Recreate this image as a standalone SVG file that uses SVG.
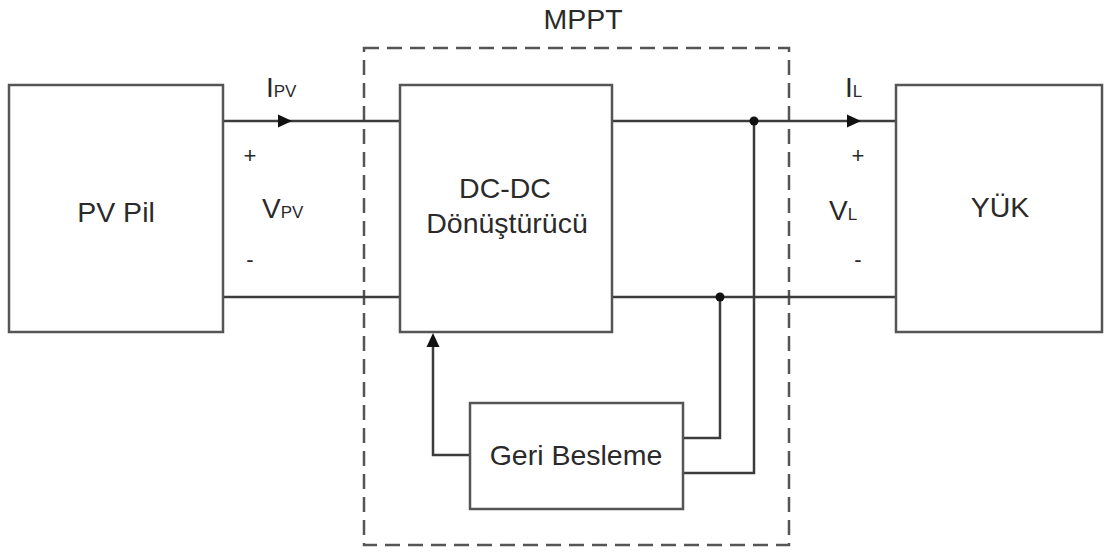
<svg xmlns="http://www.w3.org/2000/svg" width="1111" height="552" viewBox="0 0 1111 552">
<defs>
<style>
.box{fill:#fff;stroke:#555;stroke-width:2.5}
.w{fill:none;stroke:#3c3c3c;stroke-width:2.5}
.t{font-family:"Liberation Sans",Arial,sans-serif;font-size:28.5px;fill:#2a2a2a;text-anchor:middle}
.l{font-family:"Liberation Sans",Arial,sans-serif;font-size:28px;fill:#2a2a2a}
.s{font-size:17px}
.p{font-family:"Liberation Sans",Arial,sans-serif;font-size:22px;fill:#2a2a2a;text-anchor:middle}
.dot{fill:#111}
.ah{fill:#111}
</style>
</defs>
<rect width="1111" height="552" fill="#fff"/>
<g id="mppt">
<rect x="364" y="48" width="425" height="497" fill="none" stroke="#555" stroke-width="2.5" stroke-dasharray="15,8"/>
<text class="t" x="583" y="29">MPPT</text>
</g>
<g id="connectors">
<line class="w" x1="223" y1="121" x2="400" y2="121"/>
<line class="w" x1="223" y1="297" x2="400" y2="297"/>
<line class="w" x1="612" y1="121" x2="896" y2="121"/>
<line class="w" x1="612" y1="297" x2="896" y2="297"/>
<polyline class="w" points="754,121 754,473 684,473"/>
<polyline class="w" points="720,297 720,438 684,438"/>
<polyline class="w" points="470,455 433,455 433,345"/>
<path class="ah" d="M292,121 L278,114.5 L278,127.5 Z"/>
<path class="ah" d="M861,121 L847,114.5 L847,127.5 Z"/>
<path class="ah" d="M433,333 L426.5,347 L439.5,347 Z"/>
<circle class="dot" cx="754" cy="121" r="4.5"/>
<circle class="dot" cx="720" cy="297" r="4.5"/>
</g>
<g id="pv">
<rect class="box" x="9" y="85" width="214" height="247"/>
<text class="t" x="116" y="222">PV Pil</text>
</g>
<g id="dcdc">
<rect class="box" x="400" y="85" width="212" height="247"/>
<text class="t" x="505" y="198">DC-DC</text>
<text class="t" x="507" y="233">Dönüştürücü</text>
</g>
<g id="yuk">
<rect class="box" x="896" y="85" width="206" height="247"/>
<text class="t" x="1000" y="217">YÜK</text>
</g>
<g id="geri">
<rect class="box" x="470" y="403" width="213" height="106"/>
<text class="t" x="576" y="465">Geri Besleme</text>
</g>
<g id="labels">
<text class="l" x="266" y="97">I<tspan class="s">PV</tspan></text>
<text class="p" x="250" y="163">+</text>
<text class="l" x="262" y="218">V<tspan class="s">PV</tspan></text>
<text class="p" x="250" y="267">-</text>
<text class="l" x="845" y="97">I<tspan class="s">L</tspan></text>
<text class="p" x="858" y="163">+</text>
<text class="l" x="829" y="220">V<tspan class="s">L</tspan></text>
<text class="p" x="858" y="267">-</text>
</g>
</svg>
